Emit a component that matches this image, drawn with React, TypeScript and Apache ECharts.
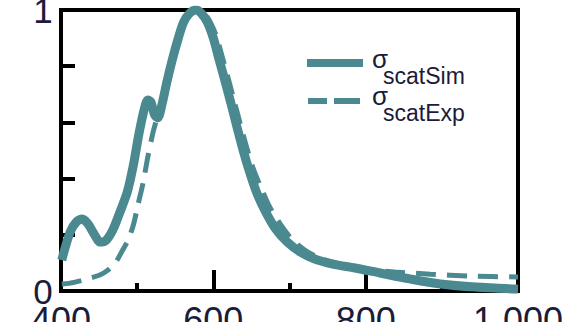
import React, { useEffect, useRef } from "react";
import * as echarts from "echarts";

const xTicks = [400, 600, 800, 1000];
const yLabelsShown = [0, 1];

const simX = [401, 412, 420, 428, 435, 445, 451, 459, 468, 477, 487, 495, 502, 509, 514, 518, 523, 527, 533, 539, 546, 554, 561, 569, 577, 584, 592, 600, 607, 615, 623, 631, 639, 648, 657, 668, 681, 697, 714, 733, 757, 786, 819, 858, 898, 944, 1000];
const simY = [0.11, 0.21, 0.245, 0.256, 0.24, 0.196, 0.174, 0.18, 0.217, 0.278, 0.352, 0.448, 0.555, 0.644, 0.68, 0.673, 0.626, 0.616, 0.669, 0.744, 0.822, 0.9, 0.957, 0.989, 1.0, 0.989, 0.957, 0.9, 0.829, 0.751, 0.669, 0.584, 0.502, 0.42, 0.349, 0.285, 0.224, 0.174, 0.139, 0.114, 0.096, 0.082, 0.064, 0.043, 0.025, 0.014, 0.007];

const expX = [401, 412, 425, 438, 451, 462, 472, 481, 488, 495, 501, 508, 514, 521, 527, 534, 541, 548, 556, 564, 572, 580, 588, 596, 604, 611, 619, 627, 635, 644, 653, 664, 674, 688, 703, 720, 740, 766, 799, 838, 885, 937, 1000];
const expY = [0.025, 0.028, 0.036, 0.046, 0.057, 0.075, 0.103, 0.146, 0.181, 0.235, 0.306, 0.388, 0.477, 0.566, 0.623, 0.68, 0.751, 0.84, 0.911, 0.964, 0.993, 1.0, 0.989, 0.957, 0.907, 0.84, 0.762, 0.68, 0.598, 0.509, 0.431, 0.359, 0.299, 0.238, 0.185, 0.146, 0.117, 0.096, 0.078, 0.068, 0.06, 0.053, 0.05];

const TEAL = "#4a8990";
const INK = "#1b1b3a";
const FONT = "Liberation Sans";

export default function App() {
  const ref = useRef<HTMLDivElement>(null);
  useEffect(() => {
    if (!ref.current) return;
    const chart = echarts.init(ref.current, null, { renderer: "svg" });
    chart.setOption({
      animation: false,
      backgroundColor: "#ffffff",
      grid: {
        left: 61,
        right: 51,
        top: 10,
        bottom: 31,
        show: true,
        borderColor: "#000",
        borderWidth: 4,
        containLabel: false,
        outerBoundsMode: "none",
      },
      xAxis: {
        type: "value",
        min: 400,
        max: 1000,
        interval: 200,
        axisLine: { show: true, lineStyle: { color: "#000", width: 4 } },
        axisTick: { show: true, inside: true, length: 21, lineStyle: { color: "#000", width: 4 } },
        minorTick: { show: true, splitNumber: 2, length: 8, lineStyle: { color: "#000", width: 4 } },
        splitLine: { show: false },
        axisLabel: {
          margin: 11,
          fontSize: 36,
          fontFamily: FONT,
          color: INK,
          alignMinLabel: "center",
          alignMaxLabel: "center",
          formatter: (v: number) => (xTicks.includes(v) ? v.toLocaleString("en-US") : ""),
        },
      },
      yAxis: {
        type: "value",
        min: 0,
        max: 1,
        interval: 0.2,
        axisLine: { show: true, lineStyle: { color: "#000", width: 4 } },
        axisTick: { show: true, inside: true, length: 14, lineStyle: { color: "#000", width: 4 } },
        splitLine: { show: false },
        axisLabel: {
          margin: 18,
          fontSize: 35,
          fontFamily: FONT,
          color: INK,
          alignMinLabel: "middle",
          alignMaxLabel: "middle",
          verticalAlign: "middle",
          formatter: (v: number) => {
            const r = Math.round(v * 10) / 10;
            return yLabelsShown.includes(r) ? String(r) : "";
          },
        },
      },
      series: [
        {
          name: "scatExp",
          type: "line",
          data: expX.map((x, i) => [x, expY[i]]),
          smooth: 0.3,
          showSymbol: false,
          lineStyle: { color: TEAL, width: 5, type: [20, 11] },
          z: 2,
        },
        {
          name: "scatSim",
          type: "line",
          data: simX.map((x, i) => [x, simY[i]]),
          smooth: 0.3,
          showSymbol: false,
          lineStyle: { color: TEAL, width: 9 },
          z: 3,
        },
      ],
      graphic: [
        { type: "line", shape: { x1: 307, y1: 63, x2: 363, y2: 63 }, style: { stroke: TEAL, lineWidth: 8 } },
        { type: "text", x: 372, y: 59, style: { text: "σ", font: `26px ${FONT}`, fill: INK, verticalAlign: "middle" } },
        { type: "text", x: 383, y: 76, style: { text: "scatSim", font: `23px ${FONT}`, fill: INK, verticalAlign: "middle" } },
        { type: "line", shape: { x1: 308, y1: 101, x2: 327, y2: 101 }, style: { stroke: TEAL, lineWidth: 6 } },
        { type: "line", shape: { x1: 334, y1: 101, x2: 360, y2: 101 }, style: { stroke: TEAL, lineWidth: 6 } },
        { type: "text", x: 372, y: 96, style: { text: "σ", font: `26px ${FONT}`, fill: INK, verticalAlign: "middle" } },
        { type: "text", x: 383, y: 113, style: { text: "scatExp", font: `23px ${FONT}`, fill: INK, verticalAlign: "middle" } },
      ],
    });
    return () => chart.dispose();
  }, []);
  return (
    <div
      ref={ref}
      style={{ position: "fixed", left: 0, top: 0, width: 569, height: 322, background: "#fff" }}
    />
  );
}
